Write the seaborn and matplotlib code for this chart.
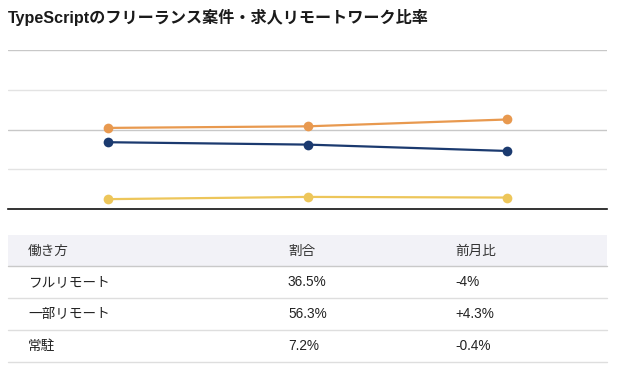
import matplotlib
matplotlib.use("Agg")
import matplotlib.pyplot as plt
import seaborn as sns
import pandas as pd
from matplotlib.patches import Rectangle
from matplotlib.lines import Line2D

# ---- data ----
periods = ["前々月", "前月", "今月"]
series_names = ["一部リモート", "フルリモート", "常駐"]
partial_remote = [51.0, 52.0, 56.3]
full_remote = [42.0, 40.5, 36.5]
onsite = [6.2, 7.6, 7.2]
series_colors = ["#E8994F", "#1B3A6F", "#EDC65A"]

table_header = ["働き方", "割合", "前月比"]
table_styles = ["フルリモート", "一部リモート", "常駐"]
table_shares = ["36.5%", "56.3%", "7.2%"]
table_changes = ["-4%", "+4.3%", "-0.4%"]

title = "TypeScriptのフリーランス案件・求人リモートワーク比率"

sns.set_theme(style="white")
plt.rcParams["font.family"] = ["Liberation Sans", "Noto Sans CJK JP", "DejaVu Sans"]

df = pd.DataFrame({
    "period": periods * 3,
    "x": list(range(len(periods))) * 3,
    "value": partial_remote + full_remote + onsite,
    "series": [series_names[0]] * 3 + [series_names[1]] * 3 + [series_names[2]] * 3,
})

W, H = 620, 375
fig = plt.figure(figsize=(W / 100, H / 100), dpi=100)

def fx(px):
    return px / W

def fy(py):
    return 1 - py / H

# chart axes: x 8..607, y 50..209 (px)
ax = fig.add_axes([fx(8), fy(209), fx(607) - fx(8), fy(50) - fy(209)])
for yv, col in [(25, "#e3e3e3"), (50, "#c8c8c8"), (75, "#e3e3e3"), (100, "#c8c8c8")]:
    ax.axhline(yv, color=col, lw=1.0, zorder=0)
sns.lineplot(data=df, x="x", y="value", hue="series", palette=series_colors,
             hue_order=series_names, marker="o", markersize=7, markeredgewidth=0,
             linewidth=1.6, ax=ax, legend=False, zorder=3)
ax.set_xlim(-0.5, 2.5)
ax.set_ylim(0, 100)
ax.set_xticks([])
ax.set_yticks([])
ax.set_xlabel("")
ax.set_ylabel("")
for s in ["top", "left", "right"]:
    ax.spines[s].set_visible(False)
ax.spines["bottom"].set_color("#111111")
ax.spines["bottom"].set_linewidth(1.2)
ax.patch.set_alpha(0)

# title
fig.text(fx(8), fy(17), title, fontsize=11.6, fontweight="bold", color="#1a1a1a",
         ha="left", va="center")

# table
tax = fig.add_axes([0, 0, 1, 1])
tax.set_xlim(0, W)
tax.set_ylim(H, 0)
tax.axis("off")
tax.add_patch(Rectangle((8, 235), 599, 31, facecolor="#F2F2F7", edgecolor="none"))
tax.add_line(Line2D([8, 607], [266, 266], color="#c9c9c9", lw=1.0))
for yl in [298, 330, 362]:
    tax.add_line(Line2D([8, 607], [yl, yl], color="#dedede", lw=1.0))
col_x = [28, 288, 455]
header_y = 250.5
for cx, t in zip(col_x, table_header):
    tax.text(cx, header_y, t, fontsize=9.8, color="#333333", ha="left", va="center")
row_y = [282, 314, 346]
for ry, a, b, c in zip(row_y, table_styles, table_shares, table_changes):
    tax.text(col_x[0], ry, a, fontsize=9.8, color="#222222", ha="left", va="center")
    tax.text(col_x[1], ry, b, fontsize=9.8, color="#222222", ha="left", va="center")
    tax.text(col_x[2], ry, c, fontsize=9.8, color="#222222", ha="left", va="center")

fig.savefig("out.png", dpi=100, facecolor="white")
